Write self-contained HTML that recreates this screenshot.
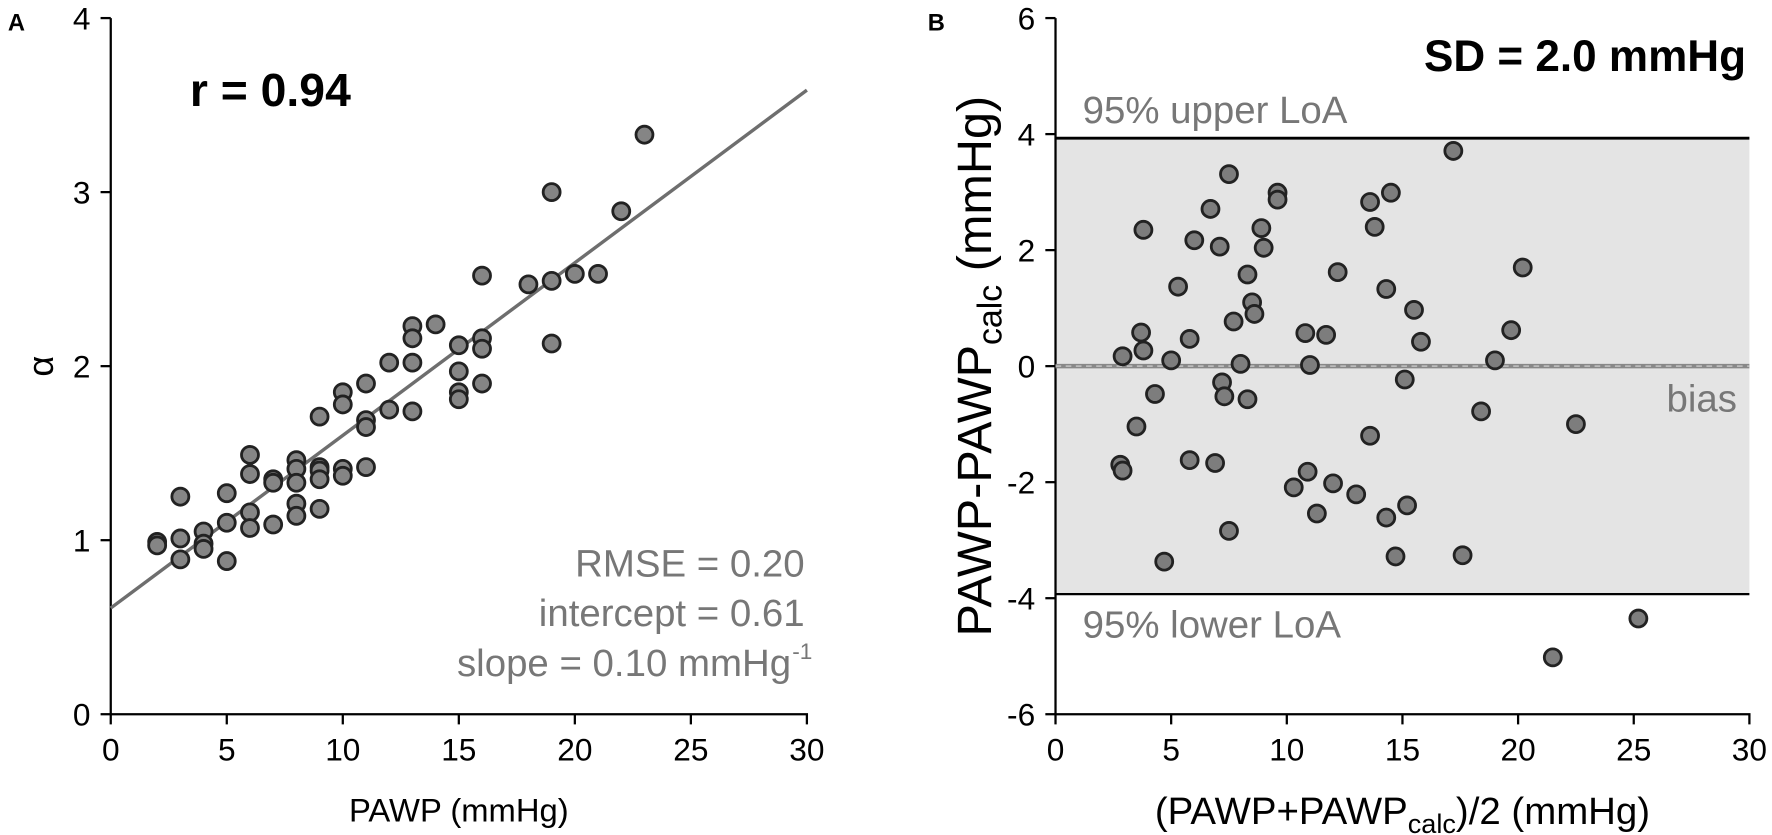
<!DOCTYPE html>
<html><head><meta charset="utf-8"><style>
body{margin:0;background:#fff}
svg{display:block;font-family:"Liberation Sans",Arial,sans-serif}
</style></head><body>
<svg id="chart" width="1772" height="835">
<g transform="scale(1.1301)">
<g id="A"></g>
<g id="B"></g>
</g>
</svg>
<script>
const aX=[2,2,3,3,3,4,4,4,5,5,5,6,6,6,6,7,7,7,8,8,8,8,8,9,9,9,9,9,10,10,10,10,11,11,11,11,12,12,13,13,13,13,14,15,15,15,15,16,16,16,16,18,19,19,19,20,21,22,23];
const aY=[0.99,0.97,1.25,1.01,0.89,1.05,0.98,0.95,1.27,1.10,0.88,1.49,1.38,1.16,1.07,1.35,1.33,1.09,1.46,1.41,1.33,1.21,1.14,1.71,1.42,1.40,1.35,1.18,1.85,1.78,1.41,1.37,1.90,1.69,1.65,1.42,2.02,1.75,2.23,2.16,2.02,1.74,2.24,2.12,1.97,1.85,1.81,2.52,2.16,2.10,1.90,2.47,3.00,2.49,2.13,2.53,2.53,2.89,3.33];
const aXTicks=[0,5,10,15,20,25,30];
const aYTicks=[0,1,2,3,4];
const fitIntercept=0.61, fitSlope=0.0992;
const bX=[2.9,2.8,2.9,3.7,3.8,3.8,3.5,4.3,4.7,5.0,5.3,5.8,5.8,6.0,6.7,6.9,7.1,7.2,7.3,7.5,7.5,7.7,8.0,8.3,8.3,8.5,8.6,8.9,9.0,9.6,9.6,10.3,10.8,10.9,11.0,11.3,11.7,12.2,12.0,13.0,13.6,13.6,13.8,14.3,14.3,14.5,14.7,15.1,15.2,15.5,15.8,17.2,17.6,18.4,19.0,19.7,20.2,21.5,22.5,25.2];
const bY=[0.17,-1.70,-1.80,0.58,0.27,2.35,-1.04,-0.48,-3.37,0.10,1.37,0.47,-1.62,2.17,2.71,-1.67,2.06,-0.28,-0.52,3.31,-2.84,0.77,0.04,1.58,-0.57,1.10,0.90,2.38,2.04,2.99,2.87,-2.09,0.57,-1.82,0.02,-2.54,0.54,1.62,-2.02,-2.21,2.83,-1.20,2.40,1.33,-2.61,2.99,-3.28,-0.23,-2.40,0.97,0.42,3.71,-3.26,-0.78,0.10,0.62,1.70,-5.02,-1.00,-4.35];
const bXTicks=[0,5,10,15,20,25,30];
const bYTicks=[-6,-4,-2,0,2,4,6];
const loaUpper=3.93, loaLower=-3.93, bias=0;

const NS="http://www.w3.org/2000/svg";
function mk(parent,tag,attrs,text){const e=document.createElementNS(NS,tag);for(const k in attrs)e.setAttribute(k,attrs[k]);if(text!==undefined)e.textContent=text;parent.appendChild(e);return e;}
const ax=v=>98+v*(616/30), ay=v=>632-v*154;
const bx=v=>934+v*(614/30), by=v=>324-v*(616/12);

const A=document.getElementById('A');
let t=mk(A,'text',{x:7,y:27,'font-size':21,'font-weight':'bold'},'A');


let l=mk(A,'line',{x1:98,y1:16,x2:98,y2:632,stroke:'#000','stroke-width':2});


l=mk(A,'line',{x1:97,y1:632,x2:715,y2:632,stroke:'#000','stroke-width':2});


aXTicks.forEach(v=>{
  mk(A,'line',{x1:ax(v),y1:632,x2:ax(v),y2:641,stroke:'#000','stroke-width':2});
  const e=mk(A,'text',{x:ax(v),y:673,'font-size':28,'text-anchor':'middle'},String(v));
  
  
});
aYTicks.forEach(v=>{
  mk(A,'line',{x1:89,y1:ay(v),x2:98,y2:ay(v),stroke:'#000','stroke-width':2});
  const e=mk(A,'text',{x:80,y:ay(v)+10,'font-size':28,'text-anchor':'end'},String(v));
  
  
});
t=mk(A,'text',{x:406,y:727,'font-size':29,'text-anchor':'middle'},'PAWP (mmHg)');


t=mk(A,'text',{x:0,y:0,'font-size':32,'text-anchor':'middle',transform:'translate(47,324) rotate(-90)'},'α');


l=mk(A,'line',{x1:ax(0),y1:ay(fitIntercept),x2:ax(30),y2:ay(fitIntercept+30*fitSlope),stroke:'#6e6e6e','stroke-width':3});


aX.forEach((v,i)=>{
  const c=mk(A,'circle',{cx:ax(v),cy:ay(aY[i]),r:7.5,fill:'#858585',stroke:'#222','stroke-width':2.5});
  
  
});
t=mk(A,'text',{x:168,y:94,'font-size':41,'font-weight':'bold'},'r = 0.94');


const stats=[['RMSE = 0.20',510],['intercept = 0.61',554],['slope = 0.10 mmHg',598]];
stats.forEach((s,i)=>{
  const e=mk(A,'text',{x:i==2?700:712,y:s[1],'font-size':34,fill:'#777','text-anchor':'end'},s[0]);
  
  
});
t=mk(A,'text',{x:701,y:583,'font-size':20,fill:'#777'},'-1');



const B=document.getElementById('B');
t=mk(B,'text',{x:821,y:27,'font-size':21,'font-weight':'bold'},'B');


let r=mk(B,'rect',{x:934,y:by(loaUpper),width:614,height:by(loaLower)-by(loaUpper),fill:'#e4e4e4'});


l=mk(B,'line',{x1:934,y1:16,x2:934,y2:632,stroke:'#000','stroke-width':2});


l=mk(B,'line',{x1:933,y1:632,x2:1549,y2:632,stroke:'#000','stroke-width':2});


bXTicks.forEach(v=>{
  mk(B,'line',{x1:bx(v),y1:632,x2:bx(v),y2:641,stroke:'#000','stroke-width':2});
  const e=mk(B,'text',{x:bx(v),y:673,'font-size':28,'text-anchor':'middle'},String(v));
  
  
});
bYTicks.forEach(v=>{
  mk(B,'line',{x1:925,y1:by(v),x2:934,y2:by(v),stroke:'#000','stroke-width':2});
  const e=mk(B,'text',{x:916,y:by(v)+10,'font-size':28,'text-anchor':'end'},String(v));
  
  
});
l=mk(B,'line',{x1:934,y1:by(loaUpper),x2:1548,y2:by(loaUpper),stroke:'#000','stroke-width':2.5});


l=mk(B,'line',{x1:934,y1:by(loaLower),x2:1548,y2:by(loaLower),stroke:'#000','stroke-width':2});


mk(B,'line',{x1:934,y1:by(bias),x2:1548,y2:by(bias),stroke:'#888','stroke-width':4});
l=mk(B,'line',{x1:934,y1:by(bias),x2:1548,y2:by(bias),stroke:'#bbb','stroke-width':1.5,'stroke-dasharray':'5 4'});


bX.forEach((v,i)=>{
  const c=mk(B,'circle',{cx:bx(v),cy:by(bY[i]),r:7.5,fill:'#7d7d7d',stroke:'#222','stroke-width':2.5});
  
  
});
t=mk(B,'text',{x:958,y:109,'font-size':34,fill:'#777'},'95% upper LoA');


t=mk(B,'text',{x:958,y:564,'font-size':34,fill:'#777'},'95% lower LoA');


t=mk(B,'text',{x:1537,y:364,'font-size':34,fill:'#777','text-anchor':'end'},'bias');


t=mk(B,'text',{x:1545,y:63,'font-size':39,'font-weight':'bold','text-anchor':'end'},'SD = 2.0 mmHg');


t=mk(B,'text',{x:1241,y:729,'font-size':34,'text-anchor':'middle'});


t.innerHTML='(PAWP+PAWP<tspan font-size="24" dy="8">calc</tspan><tspan dy="-8">)/2 (mmHg)</tspan>';
t=mk(B,'text',{x:0,y:0,'font-size':43,'text-anchor':'middle',transform:'translate(877,324) rotate(-90)'});


t.innerHTML='PAWP-PAWP<tspan font-size="30" dy="9">calc</tspan><tspan dy="-9"> (mmHg)</tspan>';
</script>
</body></html>
